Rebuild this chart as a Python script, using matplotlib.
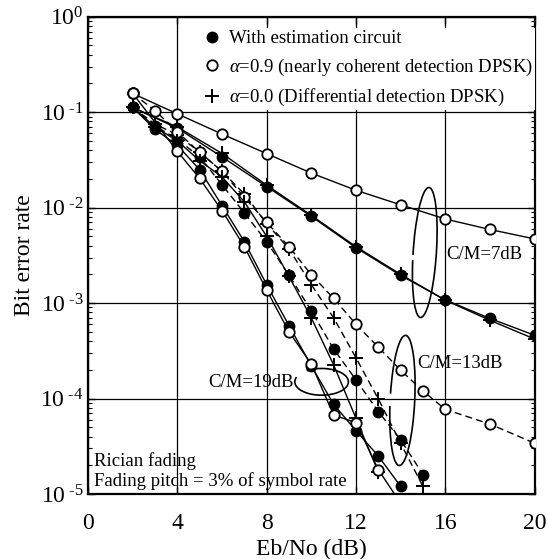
import matplotlib.pyplot as plt
from matplotlib.lines import Line2D
from matplotlib.patches import Arc

plt.rcParams["font.family"] = "Liberation Serif"
plt.rcParams["mathtext.fontset"] = "custom"
plt.rcParams["mathtext.rm"] = "Liberation Serif"
plt.rcParams["mathtext.it"] = "Liberation Serif:italic"

# C/M = 7 dB (solid lines)
ebno_7 = [2, 4, 6, 8, 10, 12, 14, 16, 18, 20]
ber_7_open = [0.157, 0.096, 0.059, 0.0368, 0.023, 0.0152, 0.0107, 0.0076, 0.0059, 0.0047]
ber_7_filled = [0.112, 0.068, 0.034, 0.0166, 0.0081, 0.0038, 0.00195, 0.00108, 0.00069, 0.00046]
ber_7_plus = [0.112, 0.070, 0.037, 0.0172, 0.0083, 0.0039, 0.0020, 0.00107, 0.00066, 0.00042]

# C/M = 13 dB (dashed lines)
ebno_13_open = [2, 3, 4, 5, 6, 7, 8, 9, 10, 11, 12, 13, 14, 15, 16, 18, 20]
ber_13_open = [0.157, 0.104, 0.062, 0.038, 0.024, 0.0128, 0.0070, 0.0039, 0.00198, 0.00112,
               0.0006, 0.000345, 0.000198, 0.00012, 7.7e-5, 5.4e-5, 3.4e-5]
ebno_13 = [2, 3, 4, 5, 6, 7, 8, 9, 10, 11, 12, 13, 14, 15]
ber_13_filled = [0.112, 0.072, 0.052, 0.034, 0.0174, 0.0088, 0.0044, 0.00196, 0.00083, 0.00033,
                 0.000157, 7.3e-5, 3.7e-5, 1.6e-5]
ber_13_plus = [0.112, 0.075, 0.058, 0.038, 0.024, 0.0139, 0.0068, 0.0037, 0.00156, 0.0007,
               0.000267, 9.9e-5, 3.4e-5, 1.2e-5]

# C/M = 19 dB (solid lines)
ebno_19_open = [2, 4, 5, 6, 7, 8, 9, 10, 11, 12, 13, 14]
ber_19_open = [0.157, 0.039, 0.0202, 0.0093, 0.0039, 0.00137, 0.0005, 0.00023, 6.7e-5, 5.6e-5,
               1.8e-5, 8e-6]
ebno_19_filled = [2, 3, 4, 5, 6, 7, 8, 9, 10, 11, 12, 13, 14]
ber_19_filled = [0.112, 0.066, 0.045, 0.025, 0.0105, 0.0044, 0.00156, 0.00058, 0.00022, 8.7e-5,
                 4.6e-5, 2.5e-5, 1.2e-5]
ebno_19_plus = [2, 3, 4, 5, 6, 7, 8, 9, 10, 11, 12, 13]
ber_19_plus = [0.112, 0.070, 0.050, 0.031, 0.021, 0.0115, 0.005, 0.0019, 0.0007, 0.000225,
               6.2e-5, 1.7e-5]

x_ticks = [0, 4, 8, 12, 16, 20]
y_ticks = [1e-5, 1e-4, 1e-3, 1e-2, 1e-1, 1e0]
y_tick_labels = ["10$^{\\text{ -5}}$", "10$^{\\text{ -4}}$", "10$^{\\text{ -3}}$",
                 "10$^{\\text{ -2}}$", "10$^{\\text{ -1}}$", "10$^{0}$"]

legend_labels = [
    "With estimation circuit",
    "$\\alpha$=0.9 (nearly coherent detection DPSK)",
    "$\\alpha$=0.0 (Differential detection DPSK)",
]

solid = "-"
dashed = (0, (5, 3))
open_kw = dict(marker="o", markersize=7.5, markerfacecolor="white", markeredgecolor="black",
               markeredgewidth=1.3)
filled_kw = dict(marker="o", markersize=7.5, markerfacecolor="black", markeredgecolor="black")
plus_kw = dict(marker="+", markersize=9.5, markeredgewidth=1.4, markeredgecolor="black")

fig = plt.figure(figsize=(5.48, 5.59), dpi=100)
ax = fig.add_axes([0.1606, 0.1163, 0.815, 0.8538])

series = [
    (ebno_7, ber_7_plus, solid, plus_kw),
    (ebno_7, ber_7_filled, solid, filled_kw),
    (ebno_7, ber_7_open, solid, open_kw),
    (ebno_13, ber_13_plus, dashed, plus_kw),
    (ebno_13, ber_13_filled, dashed, filled_kw),
    (ebno_13_open, ber_13_open, dashed, open_kw),
    (ebno_19_plus, ber_19_plus, solid, plus_kw),
    (ebno_19_filled, ber_19_filled, solid, filled_kw),
    (ebno_19_open, ber_19_open, solid, open_kw),
]
for xs, ys, ls, kw in series:
    ax.plot(xs, ys, color="black", linewidth=1.0, linestyle=ls, zorder=3, **kw)

ax.set_yscale("log")
ax.set_xlim(0, 20)
ax.set_ylim(1e-5, 1)
ax.set_xticks(x_ticks)
ax.set_xticklabels([str(t) for t in x_ticks])
ax.set_yticks(y_ticks)
ax.set_yticklabels(y_tick_labels)
ax.tick_params(axis="both", which="major", direction="in", length=5, width=1.0,
               labelsize=17, top=True, right=True)
ax.tick_params(axis="x", which="major", pad=14)
ax.tick_params(axis="y", which="major", pad=3)
ax.tick_params(axis="y", which="minor", direction="in", length=3, width=0.8, right=True)
ax.grid(True, which="major", color="black", linewidth=0.9)
for sp in ax.spines.values():
    sp.set_linewidth(1.6)

ax.set_xlabel("Eb/No (dB)", fontsize=17, labelpad=3)
ax.set_ylabel("Bit error rate", fontsize=17, labelpad=4)

# curve group labels and loops
ax.text(16.05, 0.0032, "C/M=7dB", fontsize=13.5, va="center", ha="left")
ax.text(14.75, 2.35e-4, "C/M=13dB", fontsize=13.5, va="center", ha="left")
ax.text(9.2, 1.47e-4, "C/M=19dB", fontsize=13.5, va="center", ha="right")
ax.text(0.25, 2.2e-5, "Rician fading", fontsize=13.5, va="center", ha="left")
ax.text(0.25, 1.37e-5, "Fading pitch = 3% of symbol rate", fontsize=13.5, va="center",
        ha="left")

ax.add_patch(Arc((0.754, 0.506), 0.052, 0.273, angle=-4, theta1=215, theta2=555,
                 transform=ax.transAxes, color="black", linewidth=1.2, zorder=4))
ax.add_patch(Arc((0.704, 0.196), 0.055, 0.273, angle=-3, theta1=205, theta2=515,
                 transform=ax.transAxes, color="black", linewidth=1.2, zorder=4))
ax.add_patch(Arc((0.523, 0.235), 0.12, 0.056, angle=0, theta1=170, theta2=505,
                 transform=ax.transAxes, color="black", linewidth=1.2, zorder=4))

handles = [
    Line2D([], [], linestyle="none", **filled_kw),
    Line2D([], [], linestyle="none", **open_kw),
    Line2D([], [], linestyle="none", **plus_kw),
]
leg = ax.legend(handles, legend_labels, loc="upper left", bbox_to_anchor=(0.235, 0.995),
                fontsize=13.5, frameon=True, fancybox=False, framealpha=1,
                handlelength=0.8, handletextpad=0.5, borderpad=0.1, labelspacing=0.5)
leg.get_frame().set_edgecolor("none")
leg.get_frame().set_facecolor("white")

fig.savefig("out.png", dpi=100)
